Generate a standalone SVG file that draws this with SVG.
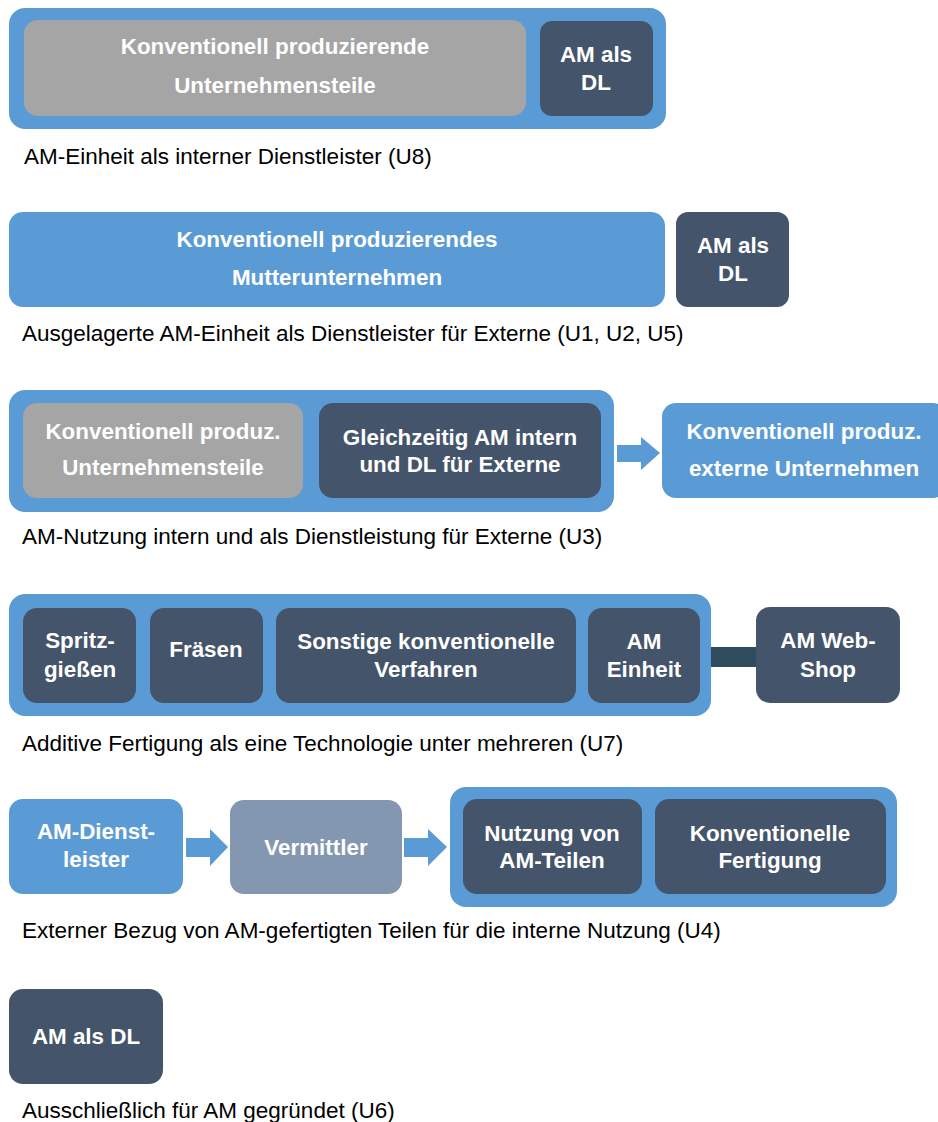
<svg xmlns="http://www.w3.org/2000/svg" width="938" height="1122" viewBox="0 0 938 1122">
<style>
.outer{fill:#5b9bd5}
.blue{fill:#5b9bd5}
.grey{fill:#a5a5a5}
.dark{fill:#44546a}
.med{fill:#8497b0}
.t{font-family:"Liberation Sans",Arial,sans-serif;font-weight:bold;font-size:22.4px;fill:#ffffff;text-anchor:middle}
.cap{font-family:"Liberation Sans",Arial,sans-serif;font-size:22.5px;fill:#000000}
</style>
<rect width="938" height="1122" fill="#ffffff"/>
<g id="connectors">
<polygon class="blue" points="617,445 641,445 641,437 660,453 641,470 641,462 617,462"/>
<rect x="700" y="647" width="57" height="20" fill="#2f4b5e"/>
<polygon class="blue" points="186,838 210,838 210,829 228,847 210,866 210,857 186,857"/>
<polygon class="blue" points="404,838 428,838 428,829 447,847 428,866 428,857 404,857"/>
</g>
<g id="row1">
<rect class="outer" x="9" y="8" width="657" height="121" rx="16"/>
<g id="n1a"><rect class="grey" x="24" y="20" width="502" height="96" rx="14"/>
<text class="t" x="275" y="54">Konventionell produzierende</text>
<text class="t" x="275" y="93">Unternehmensteile</text></g>
<g id="n1b"><rect class="dark" x="540" y="21" width="113" height="95" rx="12"/>
<text class="t" x="596" y="62">AM als</text>
<text class="t" x="596" y="90">DL</text></g>
<text class="cap" x="24" y="164">AM-Einheit als interner Dienstleister (U8)</text>
</g>
<g id="row2">
<g id="n2a"><rect class="blue" x="9" y="212" width="656" height="95" rx="14"/>
<text class="t" x="337" y="247">Konventionell produzierendes</text>
<text class="t" x="337" y="285">Mutterunternehmen</text></g>
<g id="n2b"><rect class="dark" x="676" y="212" width="113" height="95" rx="12"/>
<text class="t" x="733" y="253">AM als</text>
<text class="t" x="733" y="281">DL</text></g>
<text class="cap" x="22" y="341">Ausgelagerte AM-Einheit als Dienstleister für Externe (U1, U2, U5)</text>
</g>
<g id="row3">
<rect class="outer" x="9" y="390" width="605" height="122" rx="16"/>
<g id="n3a"><rect class="grey" x="23" y="403" width="280" height="95" rx="14"/>
<text class="t" x="163" y="439">Konventionell produz.</text>
<text class="t" x="163" y="475">Unternehmensteile</text></g>
<g id="n3b"><rect class="dark" x="319" y="403" width="282" height="95" rx="14"/>
<text class="t" x="460" y="445">Gleichzeitig AM intern</text>
<text class="t" x="460" y="472">und DL für Externe</text></g>
<g id="n3c"><rect class="blue" x="662" y="403" width="285" height="95" rx="14"/>
<text class="t" x="804" y="439">Konventionell produz.</text>
<text class="t" x="804" y="476">externe Unternehmen</text></g>
<text class="cap" x="22" y="544">AM-Nutzung intern und als Dienstleistung für Externe (U3)</text>
</g>
<g id="row4">
<rect class="outer" x="9" y="594" width="702" height="122" rx="16"/>
<g id="n4a"><rect class="dark" x="23" y="608" width="113" height="95" rx="14"/>
<text class="t" x="80" y="648">Spritz-</text>
<text class="t" x="80" y="677">gießen</text></g>
<g id="n4b"><rect class="dark" x="150" y="608" width="113" height="95" rx="14"/>
<text class="t" x="206" y="657">Fräsen</text></g>
<g id="n4c"><rect class="dark" x="276" y="608" width="300" height="95" rx="14"/>
<text class="t" x="426" y="649">Sonstige konventionelle</text>
<text class="t" x="426" y="677">Verfahren</text></g>
<g id="n4d"><rect class="dark" x="588" y="608" width="112" height="95" rx="14"/>
<text class="t" x="644" y="649">AM</text>
<text class="t" x="644" y="677">Einheit</text></g>
<g id="n4e"><rect class="dark" x="756" y="607" width="144" height="96" rx="14"/>
<text class="t" x="828" y="648">AM Web-</text>
<text class="t" x="828" y="677">Shop</text></g>
<text class="cap" x="22" y="751">Additive Fertigung als eine Technologie unter mehreren (U7)</text>
</g>
<g id="row5">
<g id="n5a"><rect class="blue" x="9" y="799" width="174" height="95" rx="14"/>
<text class="t" x="96" y="839">AM-Dienst-</text>
<text class="t" x="96" y="867">leister</text></g>
<g id="n5b"><rect class="med" x="230" y="800" width="172" height="94" rx="14"/>
<text class="t" x="316" y="855">Vermittler</text></g>
<rect class="outer" x="450" y="787" width="447" height="120" rx="16"/>
<g id="n5c"><rect class="dark" x="463" y="799" width="179" height="95" rx="14"/>
<text class="t" x="552" y="841">Nutzung von</text>
<text class="t" x="552" y="868">AM-Teilen</text></g>
<g id="n5d"><rect class="dark" x="655" y="799" width="231" height="95" rx="14"/>
<text class="t" x="770" y="841">Konventionelle</text>
<text class="t" x="770" y="868">Fertigung</text></g>
<text class="cap" x="22" y="938">Externer Bezug von AM-gefertigten Teilen für die interne Nutzung (U4)</text>
</g>
<g id="row6">
<g id="n6"><rect class="dark" x="9" y="989" width="154" height="95" rx="14"/>
<text class="t" x="86" y="1044">AM als DL</text></g>
<text class="cap" x="22" y="1118">Ausschließlich für AM gegründet (U6)</text>
</g>
</svg>
